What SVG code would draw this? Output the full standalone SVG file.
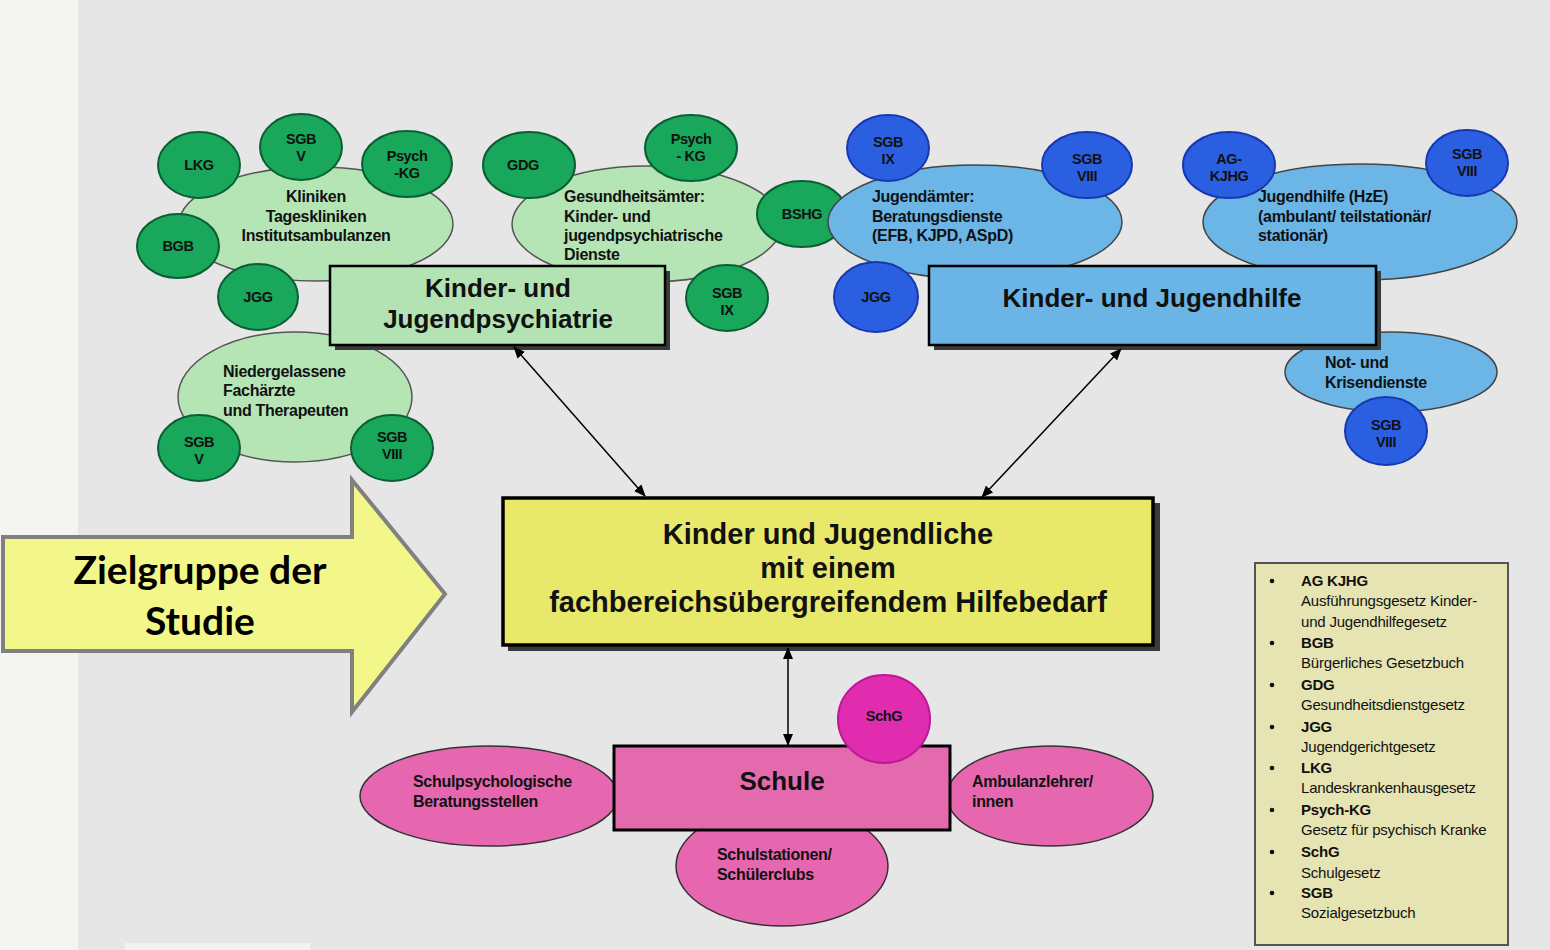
<svg xmlns="http://www.w3.org/2000/svg" width="1550" height="950" viewBox="0 0 1550 950">
<defs>
<marker id="ah" viewBox="0 0 12 10" refX="11" refY="5" markerWidth="12" markerHeight="10" markerUnits="userSpaceOnUse" orient="auto-start-reverse">
<path d="M0,0 L12,5 L0,10 z" fill="#000"/>
</marker>
</defs>
<style>
.t{font-family:"Liberation Sans",Arial,sans-serif;font-weight:bold;fill:#111;}
.el{font-size:16px;letter-spacing:-0.3px;}
.ci{font-size:14.5px;letter-spacing:-0.4px;text-anchor:middle;}
.ti{font-size:26px;text-anchor:middle;}
.lg{font-family:"Liberation Sans",Arial,sans-serif;font-size:15px;letter-spacing:-0.2px;fill:#111;}
.lh{font-weight:bold;}
.pg{fill:#b5e5b5;stroke:#555;stroke-width:1.5;}
.dg{fill:#18a75b;stroke:#0b5e33;stroke-width:2;}
.pb{fill:#6bb6e6;stroke:#444;stroke-width:1.5;}
.db{fill:#2b5fe2;stroke:#1838b0;stroke-width:2;}
.pk{fill:#e667b0;stroke:#333;stroke-width:1.5;}
.box{stroke:#000;stroke-width:2.5;}
.shd{fill:#3a3a3a;}
.con{stroke:#000;stroke-width:1.5;fill:none;marker-start:url(#ah);marker-end:url(#ah);}
</style>
<rect x="0" y="0" width="1550" height="950" fill="#e6e6e6"/>
<rect x="0" y="0" width="78" height="950" fill="#f4f4f0"/>
<rect x="125" y="943" width="185" height="7" fill="#f2f2f2"/>

<g id="psychiatrie-cluster">
<g id="kliniken"><ellipse class="pg" cx="316" cy="224" rx="137" ry="57"/>
<text class="t el" text-anchor="middle"><tspan x="316" y="202">Kliniken</tspan><tspan x="316" y="222">Tageskliniken</tspan><tspan x="316" y="241">Institutsambulanzen</tspan></text></g>
<g id="gesundheitsaemter"><ellipse class="pg" cx="647" cy="224" rx="135" ry="58"/>
<text class="t el"><tspan x="564" y="202">Gesundheitsämter:</tspan><tspan x="564" y="222">Kinder- und</tspan><tspan x="564" y="241">jugendpsychiatrische</tspan><tspan x="564" y="260">Dienste</tspan></text></g>
<g id="niedergelassene"><ellipse class="pg" cx="295" cy="397" rx="117" ry="65"/>
<text class="t el"><tspan x="223" y="377">Niedergelassene</tspan><tspan x="223" y="396">Fachärzte</tspan><tspan x="223" y="416">und Therapeuten</tspan></text></g>
<g id="c-lkg"><ellipse class="dg" cx="199" cy="165" rx="41" ry="33"/><text class="t ci" x="199" y="170">LKG</text></g>
<g id="c-sgbv1"><ellipse class="dg" cx="301" cy="147" rx="41" ry="33"/><text class="t ci"><tspan x="301" y="144">SGB</tspan><tspan x="301" y="161">V</tspan></text></g>
<g id="c-psychkg1"><ellipse class="dg" cx="407" cy="164" rx="45" ry="33"/><text class="t ci"><tspan x="407" y="161">Psych</tspan><tspan x="407" y="178">-KG</tspan></text></g>
<g id="c-bgb"><ellipse class="dg" cx="178" cy="246" rx="41" ry="32"/><text class="t ci" x="178" y="251">BGB</text></g>
<g id="c-jgg1"><ellipse class="dg" cx="258" cy="297" rx="40" ry="33"/><text class="t ci" x="258" y="302">JGG</text></g>
<g id="c-gdg"><ellipse class="dg" cx="529" cy="165" rx="46" ry="33"/><text class="t ci" x="523" y="170">GDG</text></g>
<g id="c-psychkg2"><ellipse class="dg" cx="691" cy="148" rx="46" ry="33"/><text class="t ci"><tspan x="691" y="144">Psych</tspan><tspan x="691" y="161">- KG</tspan></text></g>
<g id="c-bshg"><ellipse class="dg" cx="802" cy="214" rx="45" ry="33"/><text class="t ci" x="802" y="219">BSHG</text></g>
<g id="c-sgbix1"><ellipse class="dg" cx="727" cy="298" rx="41" ry="33"/><text class="t ci"><tspan x="727" y="298">SGB</tspan><tspan x="727" y="315">IX</tspan></text></g>
<g id="c-sgbv2"><ellipse class="dg" cx="199" cy="448" rx="41" ry="33"/><text class="t ci"><tspan x="199" y="447">SGB</tspan><tspan x="199" y="464">V</tspan></text></g>
<g id="c-sgbviii1"><ellipse class="dg" cx="392" cy="448" rx="41" ry="33"/><text class="t ci"><tspan x="392" y="442">SGB</tspan><tspan x="392" y="459">VIII</tspan></text></g>
</g>

<g id="jugendhilfe-cluster">
<g id="jugendaemter"><ellipse class="pb" cx="975" cy="222" rx="147" ry="57"/>
<text class="t el"><tspan x="872" y="202">Jugendämter:</tspan><tspan x="872" y="222">Beratungsdienste</tspan><tspan x="872" y="241">(EFB, KJPD, ASpD)</tspan></text></g>
<g id="jugendhilfe-hze"><ellipse class="pb" cx="1360" cy="222" rx="157" ry="58"/>
<text class="t el"><tspan x="1258" y="202">Jugendhilfe (HzE)</tspan><tspan x="1258" y="222">(ambulant/ teilstationär/</tspan><tspan x="1258" y="241">stationär)</tspan></text></g>
<g id="krisendienste"><ellipse class="pb" cx="1391" cy="372" rx="106" ry="40"/>
<text class="t el"><tspan x="1325" y="368">Not- und</tspan><tspan x="1325" y="388">Krisendienste</tspan></text></g>
<g id="c-sgbix2"><ellipse class="db" cx="888" cy="148" rx="41" ry="33"/><text class="t ci"><tspan x="888" y="147">SGB</tspan><tspan x="888" y="164">IX</tspan></text></g>
<g id="c-sgbviii2"><ellipse class="db" cx="1087" cy="165" rx="45" ry="33"/><text class="t ci"><tspan x="1087" y="164">SGB</tspan><tspan x="1087" y="181">VIII</tspan></text></g>
<g id="c-jgg2"><ellipse class="db" cx="876" cy="297" rx="42" ry="35"/><text class="t ci" x="876" y="302">JGG</text></g>
<g id="c-agkjhg"><ellipse class="db" cx="1229" cy="165" rx="46" ry="33"/><text class="t ci"><tspan x="1229" y="164">AG-</tspan><tspan x="1229" y="181">KJHG</tspan></text></g>
<g id="c-sgbviii3"><ellipse class="db" cx="1467" cy="163" rx="41" ry="33"/><text class="t ci"><tspan x="1467" y="159">SGB</tspan><tspan x="1467" y="176">VIII</tspan></text></g>
<g id="c-sgbviii4"><ellipse class="db" cx="1386" cy="431" rx="41" ry="34"/><text class="t ci"><tspan x="1386" y="430">SGB</tspan><tspan x="1386" y="447">VIII</tspan></text></g>
</g>

<g id="box-kjp">
<rect class="shd" x="335" y="271" width="335" height="79"/>
<rect class="box" x="330" y="266" width="335" height="79" fill="#b3e3b3"/>
<text class="t ti"><tspan x="498" y="297">Kinder- und</tspan><tspan x="498" y="328">Jugendpsychiatrie</tspan></text>
</g>
<g id="box-kjh">
<rect class="shd" x="934" y="271" width="447" height="79"/>
<rect class="box" x="929" y="266" width="447" height="79" fill="#6bb5e6"/>
<text class="t ti" x="1152" y="307">Kinder- und Jugendhilfe</text>
</g>

<g id="schule-cluster">
<g id="schulpsych"><ellipse class="pk" cx="489" cy="796" rx="129" ry="50"/>
<text class="t el"><tspan x="413" y="787">Schulpsychologische</tspan><tspan x="413" y="807">Beratungsstellen</tspan></text></g>
<g id="ambulanz"><ellipse class="pk" cx="1050" cy="796" rx="103" ry="50"/>
<text class="t el"><tspan x="972" y="787">Ambulanzlehrer/</tspan><tspan x="972" y="807">innen</tspan></text></g>
<g id="schulstationen"><ellipse class="pk" cx="782" cy="866" rx="106" ry="60"/>
<text class="t el"><tspan x="717" y="860">Schulstationen/</tspan><tspan x="717" y="880">Schülerclubs</tspan></text></g>
<g id="box-schule">
<rect x="614" y="746" width="336" height="84" fill="#e46aae" stroke="#000" stroke-width="3"/>
<text class="t ti" x="782" y="790">Schule</text>
</g>
<g id="c-schg"><ellipse cx="884" cy="719" rx="46" ry="44" fill="#e02cae" stroke="#c0169a" stroke-width="2"/><text class="t ci" x="884" y="721">SchG</text></g>
</g>

<g id="box-center">
<rect class="shd" x="508" y="503" width="652" height="148"/>
<rect x="503" y="498" width="650" height="147" fill="#e8e86a" stroke="#000" stroke-width="3.5"/>
<text class="t" font-size="29" text-anchor="middle"><tspan x="828" y="544">Kinder und Jugendliche</tspan><tspan x="828" y="578">mit einem</tspan><tspan x="828" y="612">fachbereichsübergreifendem Hilfebedarf</tspan></text>
</g>

<g id="connectors">
<line class="con" x1="514" y1="347" x2="645" y2="496"/>
<line class="con" x1="1121" y1="349" x2="982" y2="497"/>
<line class="con" x1="788" y1="648" x2="788" y2="745"/>
</g>

<g id="zielgruppe">
<polygon points="3,537 352,537 352,480 445,594 352,712 352,651 3,651" fill="#f3f78a" stroke="#808080" stroke-width="4" stroke-linejoin="miter"/>
<text font-family="Lato,'Open Sans',sans-serif" font-weight="bold" font-size="39" fill="#000" text-anchor="middle"><tspan x="200" y="584">Zielgruppe der</tspan><tspan x="200" y="635">Studie</tspan></text>
</g>

<g id="legend">
<rect x="1255" y="563" width="253" height="382" fill="#e6e4b2" stroke="#555" stroke-width="2"/>
<g fill="#111">
<circle cx="1272" cy="581" r="2.3"/><circle cx="1272" cy="643" r="2.3"/><circle cx="1272" cy="685" r="2.3"/><circle cx="1272" cy="727" r="2.3"/><circle cx="1272" cy="768" r="2.3"/><circle cx="1272" cy="810" r="2.3"/><circle cx="1272" cy="852" r="2.3"/><circle cx="1272" cy="893" r="2.3"/>
</g>
<text class="lg"><tspan class="lh" x="1301" y="586">AG KJHG</tspan><tspan x="1301" y="606">Ausführungsgesetz Kinder-</tspan><tspan x="1301" y="627">und Jugendhilfegesetz</tspan><tspan class="lh" x="1301" y="648">BGB</tspan><tspan x="1301" y="668">Bürgerliches Gesetzbuch</tspan><tspan class="lh" x="1301" y="690">GDG</tspan><tspan x="1301" y="710">Gesundheitsdienstgesetz</tspan><tspan class="lh" x="1301" y="732">JGG</tspan><tspan x="1301" y="752">Jugendgerichtgesetz</tspan><tspan class="lh" x="1301" y="773">LKG</tspan><tspan x="1301" y="793">Landeskrankenhausgesetz</tspan><tspan class="lh" x="1301" y="815">Psych-KG</tspan><tspan x="1301" y="835">Gesetz für psychisch Kranke</tspan><tspan class="lh" x="1301" y="857">SchG</tspan><tspan x="1301" y="878">Schulgesetz</tspan><tspan class="lh" x="1301" y="898">SGB</tspan><tspan x="1301" y="918">Sozialgesetzbuch</tspan></text>
</g>
</svg>
